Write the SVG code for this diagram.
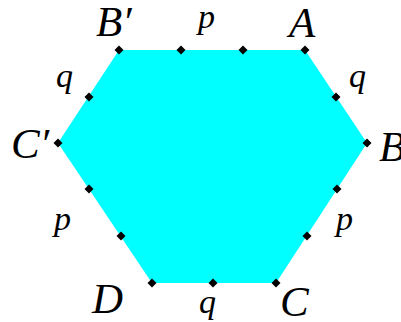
<svg xmlns="http://www.w3.org/2000/svg" width="401" height="322" viewBox="0 0 401 322">
<defs>
<style>
.v{font-family:"Liberation Serif","Times New Roman",serif;font-style:italic;font-size:43px;fill:#000}
.s{font-family:"Liberation Serif","Times New Roman",serif;font-style:italic;font-size:34px;fill:#000}
.hex{fill:#00FFFF;stroke:none}
</style>
<path id="dot" d="M0,-4.5 L4.5,0 L0,4.5 L-4.5,0 Z" fill="#000"/>
</defs>
<rect width="401" height="322" fill="#fff"/>
<g id="hexagon">
<polygon class="hex" points="119,50 305,50 367,143 276,283 152,283 58,143"/>
</g>
<g id="connectors"></g>
<g id="dots">
<use href="#dot" x="119" y="50"/>
<use href="#dot" x="181" y="50"/>
<use href="#dot" x="243" y="50"/>
<use href="#dot" x="305" y="50"/>
<use href="#dot" x="336" y="97"/>
<use href="#dot" x="367" y="143"/>
<use href="#dot" x="337" y="189"/>
<use href="#dot" x="307" y="236"/>
<use href="#dot" x="276" y="283"/>
<use href="#dot" x="213" y="283"/>
<use href="#dot" x="152" y="283"/>
<use href="#dot" x="121" y="236"/>
<use href="#dot" x="89" y="189"/>
<use href="#dot" x="58" y="143"/>
<use href="#dot" x="89" y="97"/>
</g>
<g id="labels">
<text class="v" x="96" y="36">B′</text>
<text class="v" x="289" y="37">A</text>
<text class="v" x="11" y="158">C′</text>
<text class="v" x="379" y="161">B</text>
<text class="v" x="92" y="313">D</text>
<text class="v" x="280" y="316">C</text>
<text class="s" x="198" y="28">p</text>
<text class="s" x="56" y="87">q</text>
<text class="s" x="349" y="87">q</text>
<text class="s" x="54" y="230">p</text>
<text class="s" x="336" y="230">p</text>
<text class="s" x="199" y="313">q</text>
</g>
</svg>
